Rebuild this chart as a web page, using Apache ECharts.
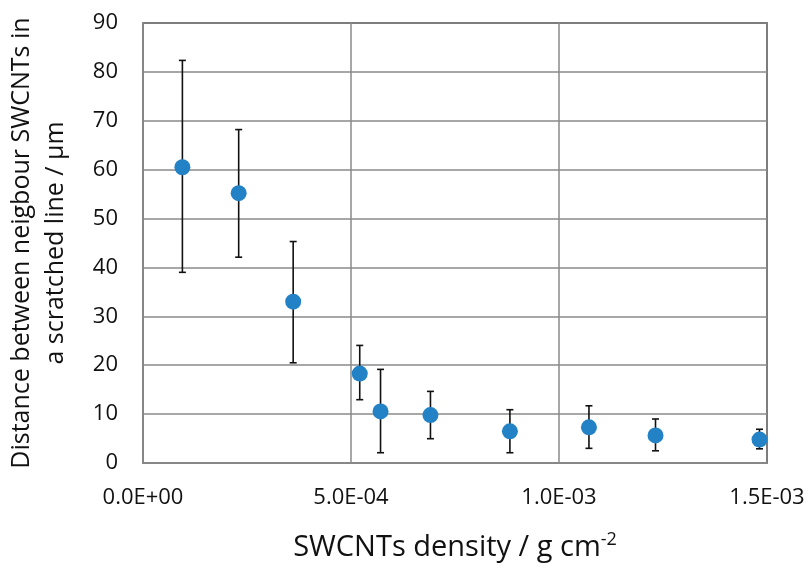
<!DOCTYPE html>
<html>
<head>
<meta charset="utf-8">
<script src="https://cdn.jsdelivr.net/npm/echarts@6/dist/echarts.min.js"></script>
<style>html,body{margin:0;padding:0;background:#fff;}#c{width:812px;height:571px;}</style>
</head>
<body>
<div id="c"></div>
<script>
const density = [9.47e-5, 2.30e-4, 3.61e-4, 5.21e-4, 5.71e-4, 6.91e-4, 8.82e-4, 1.072e-3, 1.232e-3, 1.482e-3];
const distance = [60.5, 55.2, 33.0, 18.3, 10.55, 9.8, 6.47, 7.3, 5.65, 4.8];
const errLow = [39.0, 42.1, 20.5, 12.95, 2.1, 4.97, 2.1, 3.0, 2.5, 2.9];
const errHigh = [82.35, 68.2, 45.3, 24.05, 19.15, 14.65, 10.9, 11.7, 9.0, 6.9];

const FONT = 'Open Sans';
function fmtSci(v) {
  if (v === 0) return '0.0E+00';
  const s = v.toExponential(1).toUpperCase();
  const m = s.split('E');
  let e = parseInt(m[1], 10);
  const sign = e < 0 ? '-' : '+';
  e = Math.abs(e);
  return m[0] + 'E' + sign + (e < 10 ? '0' + e : '' + e);
}

const chart = echarts.init(document.getElementById('c'));
chart.setOption({
  animation: false,
  grid: { left: 143, top: 23, right: 45, bottom: 108, outerBoundsMode: 'none', containLabel: false,
    show: true, borderColor: '#222', borderWidth: 1.5, backgroundColor: 'transparent' },
  xAxis: {
    type: 'value', min: 0, max: 1.5e-3, interval: 5e-4,
    axisLine: { show: true, onZero: false, lineStyle: { color: '#8a8a8a', width: 1.5 } },
    axisTick: { show: false },
    splitLine: { show: true, lineStyle: { color: '#8a8a8a', width: 1.5 } },
    axisLabel: { formatter: fmtSci, color: '#111', fontSize: 22, fontFamily: FONT, margin: 24 },
    name: 'SWCNTs density / g cm{sup|-2}',
    nameLocation: 'middle', nameGap: 68,
    nameTextStyle: { color: '#111', fontSize: 29, fontFamily: FONT,
      rich: { sup: { fontSize: 18, verticalAlign: 'top', padding: [0, 0, 16, 0], color: '#111', fontFamily: FONT } } }
  },
  yAxis: {
    type: 'value', min: 0, max: 90, interval: 10,
    axisLine: { show: true, lineStyle: { color: '#8a8a8a', width: 1.5 } },
    axisTick: { show: false },
    splitLine: { show: true, lineStyle: { color: '#8a8a8a', width: 1.5 } },
    axisLabel: { color: '#111', fontSize: 22, fontFamily: FONT, margin: 25 },
    name: 'Distance between neigbour SWCNTs in\na scratched line / μm',
    nameLocation: 'middle', nameRotate: 90, nameGap: 70,
    nameTextStyle: { color: '#111', fontSize: 25, fontFamily: FONT, lineHeight: 34, align: 'center' }
  },
  series: [
    {
      type: 'custom',
      data: density.map((d, i) => [d, errLow[i], errHigh[i]]),
      renderItem: function (params, api) {
        const x = api.value(0);
        const lo = api.coord([x, api.value(1)]);
        const hi = api.coord([x, api.value(2)]);
        const hw = 3.5;
        const st = { stroke: '#111', lineWidth: 1.6 };
        return {
          type: 'group',
          children: [
            { type: 'line', shape: { x1: lo[0], y1: lo[1], x2: hi[0], y2: hi[1] }, style: st },
            { type: 'line', shape: { x1: lo[0] - hw, y1: lo[1], x2: lo[0] + hw, y2: lo[1] }, style: st },
            { type: 'line', shape: { x1: hi[0] - hw, y1: hi[1], x2: hi[0] + hw, y2: hi[1] }, style: st }
          ]
        };
      },
      z: 2
    },
    {
      type: 'scatter',
      data: density.map((d, i) => [d, distance[i]]),
      symbol: 'circle', symbolSize: 16,
      itemStyle: { color: '#2282c5', opacity: 1 },
      z: 3
    }
  ]
});
</script>
</body>
</html>
